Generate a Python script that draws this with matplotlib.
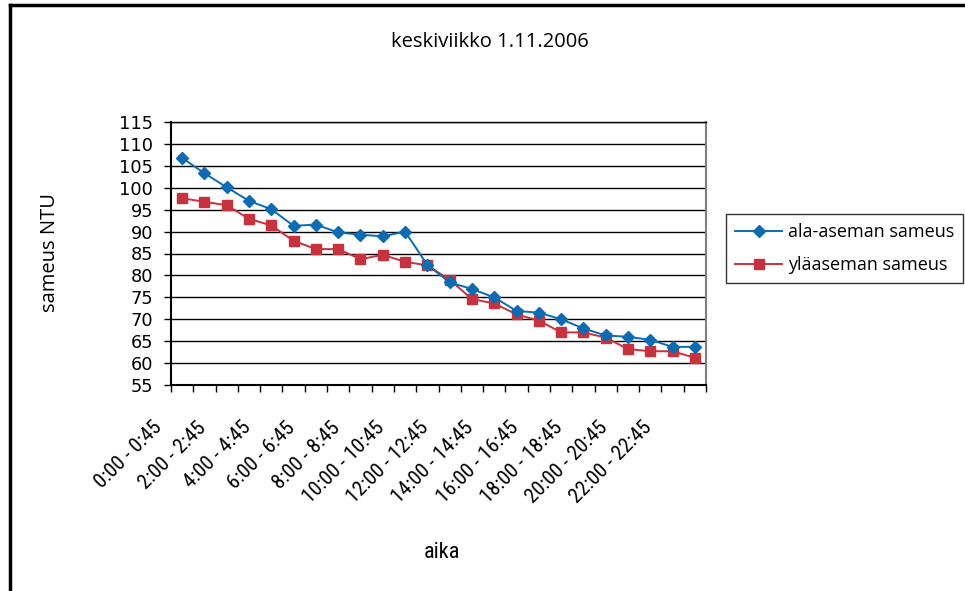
import numpy as np
import matplotlib
matplotlib.use('agg')
from matplotlib import pyplot as plt
from matplotlib import font_manager
from matplotlib.lines import Line2D
from matplotlib.ticker import FixedLocator, MultipleLocator
from matplotlib.transforms import ScaledTranslation

# narrow font for the category labels if one is around
installed = set(f.name for f in font_manager.fontManager.ttflist)
narrow = None
for name in ['Liberation Sans Narrow', 'DejaVu Sans Condensed', 'Roboto Condensed']:
    if name in installed:
        narrow = name
        break

plt.rcParams['font.family'] = ['DejaVu Sans']

# tunnit 0:00 - 23:45
hours = list(range(24))
labels = ["{0}:00 - {0}:45".format(h) for h in hours]

ala_aseman = [106.8, 103.3, 100.1, 97.0, 95.1, 91.3, 91.6, 89.8, 89.3, 88.9, 90.0, 82.4,
              78.4, 76.9, 75.0, 71.9, 71.5, 70.0, 67.9, 66.3, 66.0, 65.3, 63.7, 63.7]
ylaaseman = [97.6, 96.8, 96.0, 92.9, 91.4, 87.9, 86.0, 86.0, 83.7, 84.7, 83.1, 82.3,
             79.0, 74.6, 73.6, 71.1, 69.7, 67.0, 67.0, 65.8, 63.2, 62.7, 62.7, 61.2]

blue = '#0b6bb3'
red = '#c8323c'

fig = plt.figure(figsize=(9.65, 5.91), dpi=100)
ax = fig.add_axes([171/965, 1 - 385/591, 535/965, 263/591])

x = np.arange(len(hours))
ax.plot(x, ala_aseman, color=blue, lw=1.4, marker='D', ms=6.5, mec=blue, mfc=blue,
        label='ala-aseman sameus', zorder=4)
ax.plot(x, ylaaseman, color=red, lw=1.4, marker='s', ms=7, mec=red, mfc=red,
        label='yläaseman sameus', zorder=3)

ax.set_xlim(-0.5, len(hours) - 0.5)
ax.set_ylim(55, 115)
ax.yaxis.set_major_locator(MultipleLocator(5))
ax.yaxis.grid(True, color='black', lw=1)
ax.set_axisbelow(True)

# tick marks between categories, labels every second hour
ax.xaxis.set_major_locator(FixedLocator(np.arange(-0.5, len(hours), 1)))
ax.set_xticklabels([])
ax.xaxis.set_minor_locator(FixedLocator(x[::2]))
xfont = {'family': narrow, 'size': 15} if narrow else {'family': 'DejaVu Sans', 'size': 12}
ax.set_xticklabels([labels[i] for i in range(0, 24, 2)], minor=True,
                   rotation=45, ha='right', va='top', **xfont)
ax.tick_params(axis='x', which='minor', length=0, pad=0)
ax.tick_params(axis='x', which='major', direction='out', length=5, width=1)
ax.tick_params(axis='y', direction='out', length=5, width=1, labelsize=12.8, pad=8)
shift = ScaledTranslation(-17/100, -33/100, fig.dpi_scale_trans)
for t in ax.get_xticklabels(minor=True):
    t.set_transform(t.get_transform() + shift)

ax.spines['right'].set_color('#808080')
ax.spines['right'].set_linewidth(1.5)
ax.spines['top'].set_linewidth(1)
ax.spines['left'].set_linewidth(1.5)
ax.spines['bottom'].set_linewidth(1.5)

fig.text(490/965, 1 - 42/591, 'keskiviikko 1.11.2006', ha='center', va='center',
         fontsize=14.5, family=['Open Sans', 'DejaVu Sans'])
fig.text(50/965, 1 - 253/591, 'sameus NTU', ha='center', va='center', rotation=90,
         fontsize=14.5, family=['Open Sans', 'DejaVu Sans'])
fig.text(442/965, 1 - 552/591, 'aika', ha='center', va='center',
         family=narrow if narrow else 'DejaVu Sans', fontsize=16 if narrow else 13)

leg = fig.legend(loc='upper left', bbox_to_anchor=(726/965, 1 - 214/591),
                 prop={'family': ['Open Sans', 'DejaVu Sans'], 'size': 13},
                 frameon=True, fancybox=False, edgecolor='black',
                 borderpad=0.5, handlelength=2.6, labelspacing=0.85, handletextpad=0.33,
                 borderaxespad=0)
leg.get_frame().set_linewidth(1)

# chart border
fig.add_artist(Line2D([9.5/965, 9.5/965], [0, 1 - 5/591], color='black', lw=2.5,
                      transform=fig.transFigure))
fig.add_artist(Line2D([9.5/965, 1], [1 - 5/591, 1 - 5/591], color='black', lw=2.5,
                      transform=fig.transFigure))

fig.savefig('out.png', dpi=100)
